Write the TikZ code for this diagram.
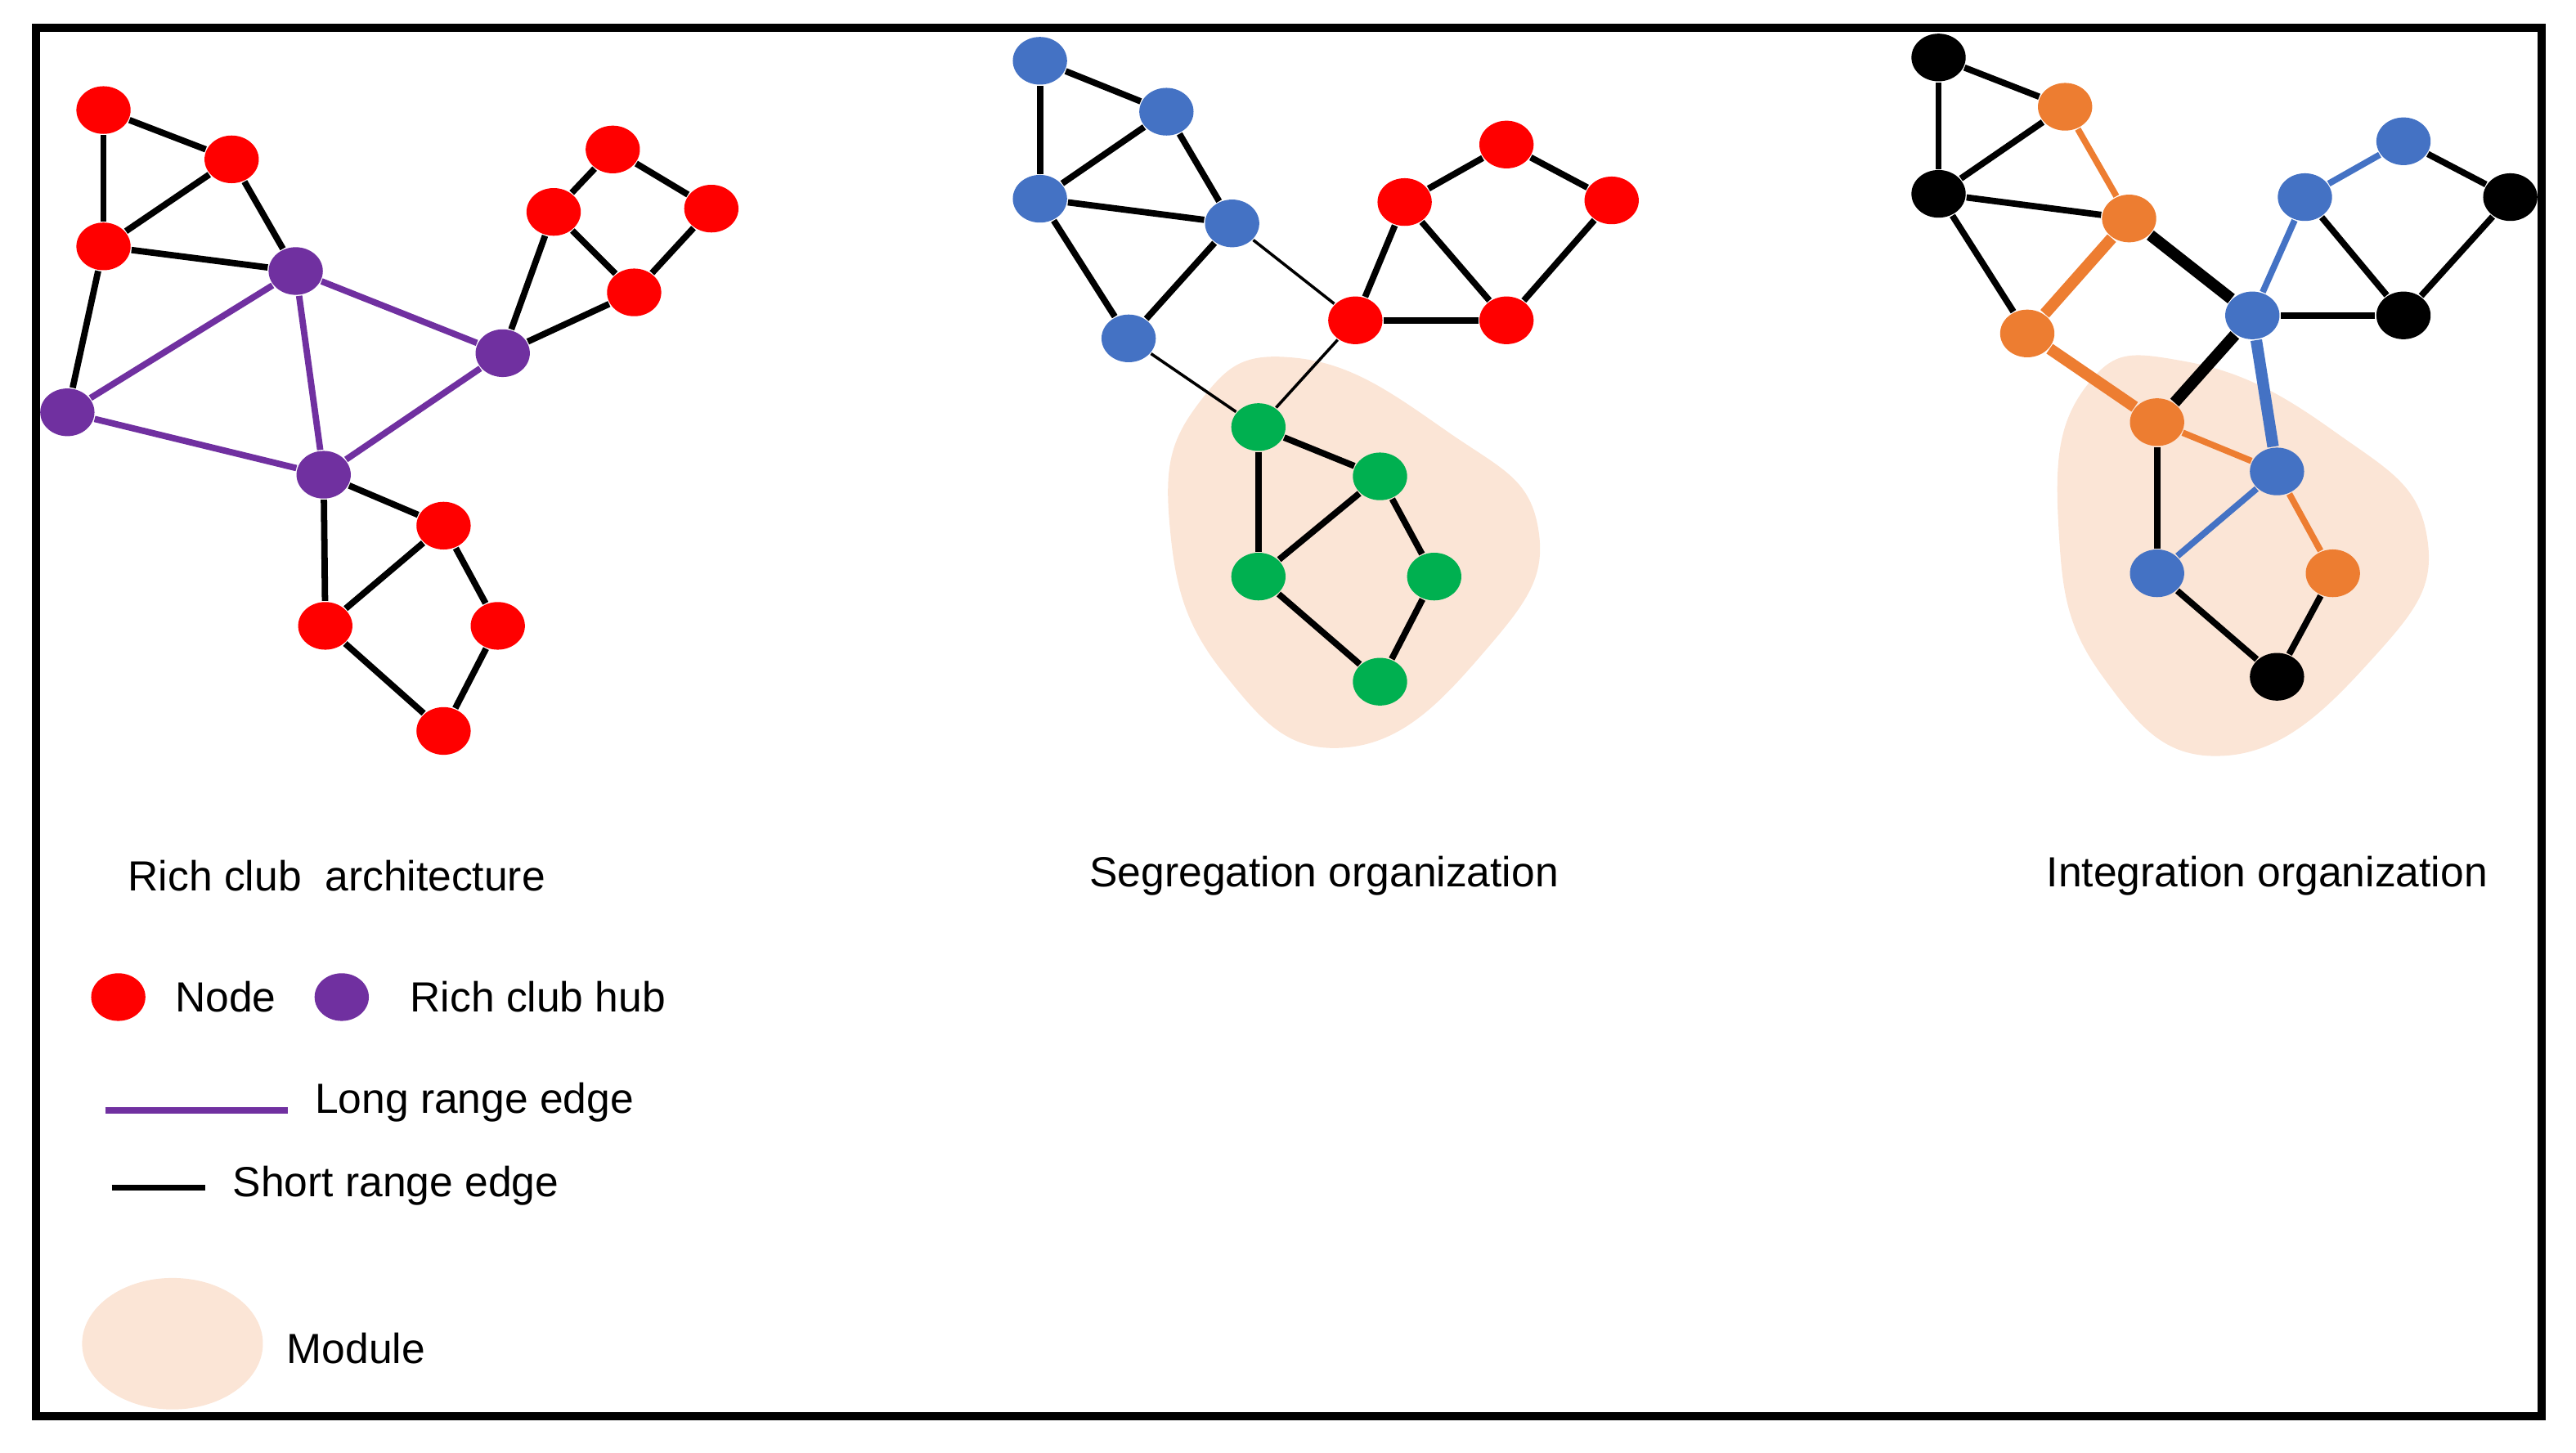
\documentclass[tikz,border=0pt]{standalone}
\usepackage{fontspec}
\setmainfont{Liberation Sans}
\usetikzlibrary{shapes.geometric}
\definecolor{nred}{HTML}{FF0000}
\definecolor{npur}{HTML}{7030A0}
\definecolor{nblue}{HTML}{4472C4}
\definecolor{ngreen}{HTML}{00B050}
\definecolor{norange}{HTML}{ED7D31}
\definecolor{modc}{HTML}{FBE5D6}
\begin{document}
\begin{tikzpicture}[x=0.01cm,y=-0.01cm,
 nd/.style={ellipse,minimum width=0.33cm,minimum height=0.29cm,inner sep=0pt,fill=#1},
 e/.style={line width=1.1pt},
 thin e/.style={line width=0.5pt},
 lbl/.style={font=\fontsize{7.3}{9}\selectfont,inner sep=0pt}]
\useasboundingbox (0,0) rectangle (1568,884.5);
\draw[line width=1.4pt] (22,17) rectangle (1547,862);
% modules
\fill[modc] plot[smooth cycle,tension=0.8] coordinates{(730,245) (790,218) (880,262) (936,320) (905,395) (820,455) (745,410) (712,320)};
\fill[modc] plot[smooth cycle,tension=0.8] coordinates{(1270,235) (1330,220) (1420,262) (1477,325) (1445,400) (1355,460) (1280,412) (1253,320)};
% panel 1
\foreach \n/\x/\y/\c in {a1/63/67/nred,a2/141/97/nred,a3/63/150/nred,h1/180/165/npur,h2/41/251/npur,h3/306/215/npur,h4/197/289/npur,b1/373/91/nred,b2/433/127/nred,b3/337/129/nred,b4/386/178/nred,c1/270/320/nred,c2/198/381/nred,c3/303/381/nred,c4/270/445/nred}
  \node[nd=\c] (\n) at (\x,\y) {};
\foreach \a/\b in {a1/a2,a1/a3,a2/a3,a2/h1,a3/h1,a3/h2,h3/b3,h3/b4,b3/b1,b1/b2,b2/b4,b3/b4,h4/c1,h4/c2,c2/c1,c1/c3,c3/c4,c4/c2}
  \draw[e] (\a) -- (\b);
\foreach \a/\b in {h1/h2,h1/h3,h1/h4,h2/h4,h4/h3}
  \draw[e,npur] (\a) -- (\b);
% panel 2
\foreach \n/\x/\y/\c in {s1/633/37/nblue,s2/710/68/nblue,s3/633/121/nblue,s4/750/136/nblue,s5/687/206/nblue,r1/825/195/nred,r2/855/123/nred,r3/917/88/nred,r4/981/122/nred,r5/917/195/nred,g1/766/260/ngreen,g2/840/290/ngreen,g3/766/351/ngreen,g4/873/351/ngreen,g5/840/415/ngreen}
  \node[nd=\c] (\n) at (\x,\y) {};
\foreach \a/\b in {s1/s2,s1/s3,s3/s2,s2/s4,s3/s4,s3/s5,s5/s4,r1/r2,r2/r3,r3/r4,r4/r5,r5/r1,r2/r5,g1/g3,g1/g2,g2/g3,g2/g4,g4/g5,g5/g3}
  \draw[e] (\a) -- (\b);
\foreach \a/\b in {s4/r1,s5/g1,r1/g1}
  \draw[thin e] (\a) -- (\b);
% panel 3
\foreach \n/\x/\y/\c in {k1/1180/35/black,o1/1257/65/norange,k2/1180/118/black,o2/1296/133/norange,o3/1234/203/norange,B1/1371/192/nblue,B2/1403/120/nblue,B3/1463/86/nblue,k3/1528/120/black,k4/1463/192/black,o4/1313/257/norange,B4/1386/287/nblue,B5/1313/349/nblue,o5/1420/349/norange,k5/1386/412/black}
  \node[nd=\c] (\n) at (\x,\y) {};
\foreach \a/\b in {k1/o1,k1/k2,k2/o1,k2/o2,k2/o3,B3/k3,k3/k4,k4/B1,B2/k4,o4/B5,o5/k5,k5/B5}
  \draw[e] (\a) -- (\b);
\foreach \a/\b in {o2/B1,B1/o4}
  \draw[line width=2pt] (\a) -- (\b);
\draw[e,norange] (o1) -- (o2);
\draw[line width=2pt,norange] (o3) -- (o2);
\draw[line width=2pt,norange] (o3) -- (o4);
\draw[e,norange] (o4) -- (B4);
\draw[e,norange] (B4) -- (o5);
\draw[e,nblue] (B1) -- (B2);
\draw[e,nblue] (B2) -- (B3);
\draw[line width=2pt,nblue] (B1) -- (B4);
\draw[e,nblue] (B4) -- (B5);
% titles
\node[lbl] (t1) at (205,533) {Rich club\ \ architecture};
\node[lbl] (t2) at (806,533) {Segregation organization};
\node[lbl] (t3) at (1380,533) {Integration organization};
% legend
\node[nd=nred] (ln) at (72,607) {};
\node[lbl,anchor=west] (lnt) at (106,607) {Node};
\node[nd=npur] (lh) at (208,607) {};
\node[lbl,anchor=west] (lht) at (249,607) {Rich club hub};
\coordinate (p1) at (64,676); \coordinate (p2) at (175,676);
\draw[e,npur] (p1) -- (p2);
\node[lbl,anchor=west] (lpt) at (191,671) {Long range edge};
\coordinate (q1) at (68,723); \coordinate (q2) at (125,723);
\draw[e] (q1) -- (q2);
\node[lbl,anchor=west] (lqt) at (141,722) {Short range edge};
\node[ellipse,fill=modc,minimum width=1.1cm,minimum height=0.8cm] (lm) at (105,818) {};
\node[lbl,anchor=west] (lmt) at (174,821) {Module};
\end{tikzpicture}
\end{document}
